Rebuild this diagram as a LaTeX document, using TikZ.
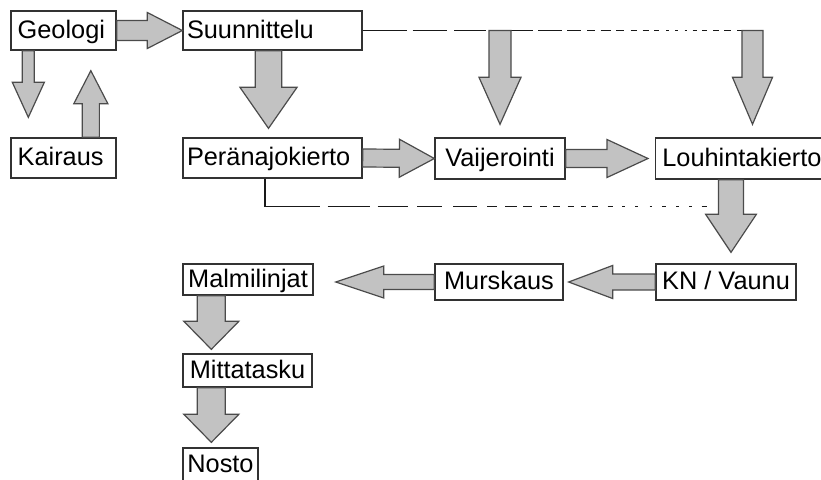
\documentclass[tikz,border=0pt]{standalone}
\usepackage{fontspec}
\setmainfont{Liberation Sans}
\usetikzlibrary{calc}
\definecolor{boxline}{RGB}{50, 50, 50}
\definecolor{arrfill}{RGB}{194, 194, 194}
\definecolor{arrline}{RGB}{75, 75, 75}

% block arrow: start, tip, shaft half width, head half width, head length
\newcommand{\blockarr}[5]{%
  \coordinate (ba-base) at ($(#2)!#5!(#1)$);
  \filldraw[blockar] ($(#1)!#3!90:(#2)$) -- ($(ba-base)!#3!90:(#2)$)
    -- ($(ba-base)!#4!90:(#2)$) -- (#2) -- ($(ba-base)!#4!-90:(#2)$)
    -- ($(ba-base)!#3!-90:(#2)$) -- ($(#1)!#3!-90:(#2)$) -- cycle;}

\begin{document}
\begin{tikzpicture}[x=0.75pt, y=-0.75pt,
    box/.style={draw=boxline, line width=1pt, fill=white, inner sep=0pt,
      font=\fontsize{19pt}{22pt}\selectfont, text height=11.5pt, text depth=0pt},
    leftbox/.style={box, align=left},
    blockar/.style={fill=arrfill, draw=arrline, line width=0.9pt, line join=miter},
    linkline/.style={draw=black!90, line width=1pt}]
  \useasboundingbox (0,0) rectangle (821,479);

  % Upper rows
  \node[leftbox, inner xsep=5pt, text width=68.75pt, minimum height=29.25pt] (geologi) at (63.5,30.5) {Geologi};
  \node[leftbox, inner xsep=5pt, text width=68.75pt, minimum height=30pt] (kairaus) at (63.5,158) {Kairaus};
  \node[leftbox, inner xsep=3pt, text width=128.25pt, minimum height=29.25pt] (suunnittelu) at (272.5,30.5) {Suunnittelu};
  \node[leftbox, inner xsep=3pt, text width=128.25pt, minimum height=30pt] (peranajo) at (272.5,158) {Peränajokierto};
  \node[box, minimum width=97.5pt, minimum height=30.75pt] (vaijer) at (500,158.5) {Vaijerointi};
  \node[leftbox, inner xsep=5pt, text width=125pt, minimum height=30.75pt, anchor=west] (louhinta) at (655,158.5) {Louhintakierto};

  % Lower rows
  \node[box, minimum width=105pt, minimum height=27pt] (knvaunu) at (726,282) {KN / Vaunu};
  \node[box, minimum width=96pt, minimum height=27pt] (murskaus) at (499,282) {Murskaus};
  \node[box, minimum width=97.5pt, minimum height=23.25pt] (malmi) at (248,279.5) {Malmilinjat};
  \node[box, minimum width=96.75pt, minimum height=24.75pt] (mitta) at (247.5,370.5) {Mittatasku};
  \node[box, minimum width=56.25pt, minimum height=24.75pt] (nosto) at (220.5,464.5) {Nosto};

  % Fading link lines
  \coordinate (topend) at ($(suunnittelu.east)+(401,0)$);
  \draw[linkline, dash pattern=on 33pt off 4.5pt on 26pt off 5pt on 24pt off 16pt on 19pt off 4pt
    on 18pt off 4pt on 10pt off 5pt on 6pt off 4pt on 7.5pt off 4pt on 6pt off 5pt on 5pt off 4pt
    on 4.5pt off 4pt on 4pt off 5pt on 2pt off 5pt on 2pt off 5pt on 2pt off 4pt on 3pt off 4pt
    on 4pt off 4.5pt on 4pt off 4pt on 5pt off 5pt on 4pt off 20pt]
    (suunnittelu.east) -- (topend);
  \coordinate (pjturn) at ($(peranajo.south)+(-7.5,28)$);
  \coordinate (lhtop) at ($(louhinta.south west)+(76,0)$);
  \draw[linkline, dash pattern=on 62pt off 6pt on 31.5pt off 6pt on 22.5pt off 7pt on 19pt off 8pt
    on 18pt off 7.5pt on 7.5pt off 6pt on 9pt off 4.5pt on 7pt off 6pt on 5pt off 4.5pt on 5pt off 6pt
    on 5pt off 5pt on 4pt off 4.5pt on 4pt off 7.5pt on 4pt off 7pt on 2pt off 7.5pt on 2pt off 9pt
    on 2pt off 7.5pt on 3pt off 7.5pt on 2pt off 7.5pt on 2pt off 7.5pt on 4pt off 20pt]
    (pjturn |- peranajo.south) -- (pjturn) -- (pjturn -| lhtop);

  % Arrows, top part
  \blockarr{geologi.east}{suunnittelu.west}{7.5pt}{13.5pt}{26.25pt}
  \coordinate (geodown) at ($(geologi.south west)+(18,0)$);
  \coordinate (geotip) at ($(kairaus.north west)+(18,-20)$);
  \blockarr{geodown}{geotip}{4.5pt}{12pt}{26.25pt}
  \coordinate (kaiup) at ($(kairaus.north west)+(80.5,0)$);
  \coordinate (kaitip) at ($(geologi.south west)+(80.5,20)$);
  \blockarr{kaiup}{kaitip}{6.4pt}{12.75pt}{24.75pt}
  \coordinate (suudown) at ($(suunnittelu.south)+(-4,0)$);
  \coordinate (suutip) at ($(peranajo.north)+(-4,-9)$);
  \blockarr{suudown}{suutip}{10pt}{21.4pt}{30.75pt}
  \coordinate (vjtip) at ($(vaijer.north)+(0,-13)$);
  \coordinate (vjtop) at (vjtip |- topend);
  \blockarr{vjtop}{vjtip}{8.25pt}{15.75pt}{35.25pt}
  \coordinate (lktip) at ($(louhinta.north west)+(97.5,-13)$);
  \coordinate (lktop) at (lktip |- topend);
  \blockarr{lktop}{lktip}{7.9pt}{15pt}{35.25pt}
  \blockarr{peranajo.east}{vaijer.west}{6.75pt}{14.25pt}{26.25pt}
  \coordinate (lhleft) at ($(louhinta.west)+(-7,0)$);
  \blockarr{vaijer.east}{lhleft}{6.75pt}{14.25pt}{30.75pt}

  % Arrows, bottom part
  \coordinate (lhtip) at ($(knvaunu.north)+(5,-11)$);
  \blockarr{lhtop}{lhtip}{9.4pt}{19pt}{28.5pt}
  \coordinate (murtip) at ($(murskaus.east)+(5,0)$);
  \blockarr{knvaunu.west}{murtip}{6pt}{12.4pt}{33pt}
  \coordinate (maltip) at ($(malmi.east |- murskaus.west)+(22,0)$);
  \blockarr{murskaus.west}{maltip}{5.6pt}{12pt}{36pt}
  \coordinate (maldown) at ($(malmi.south west)+(29,0)$);
  \coordinate (mittip) at ($(mitta.north west)+(29,-4)$);
  \blockarr{maldown}{mittip}{10.5pt}{20.6pt}{21pt}
  \coordinate (mitdown) at ($(mitta.south west)+(29,0)$);
  \coordinate (nostip) at ($(nosto.north west)+(29,-5)$);
  \blockarr{mitdown}{nostip}{10.5pt}{20.6pt}{21pt}
\end{tikzpicture}
\end{document}
